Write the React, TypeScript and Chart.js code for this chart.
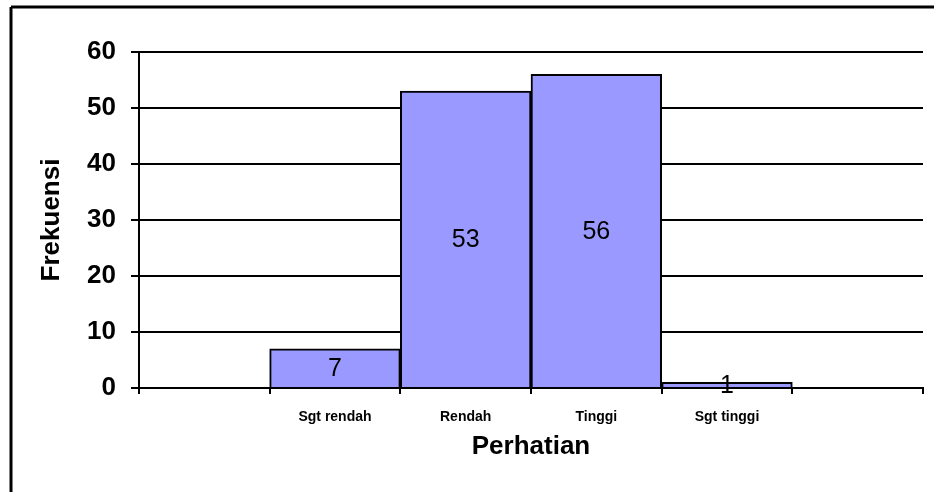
import React, { useEffect, useRef } from "react";
import { Chart, registerables } from "chart.js";

Chart.register(...registerables);

const categories = ["", "Sgt rendah", "Rendah", "Tinggi", "Sgt tinggi", ""];
const frequencies: (number | null)[] = [null, 7, 53, 56, 1, null];
const yTicks = [0, 10, 20, 30, 40, 50, 60];

const FONT = "'Liberation Sans', Arial, sans-serif";

const framePlugin = {
  id: "frame",
  afterDraw(chart: any) {
    const ctx = chart.ctx;
    ctx.save();
    ctx.strokeStyle = "#000";
    ctx.lineWidth = 3;
    ctx.beginPath();
    ctx.moveTo(11, 7);
    ctx.lineTo(934, 7);
    ctx.moveTo(11, 7);
    ctx.lineTo(11, 492);
    ctx.stroke();
    ctx.restore();
  },
};

const valueLabelPlugin = {
  id: "valueLabels",
  afterDatasetsDraw(chart: any) {
    const ctx = chart.ctx;
    const meta = chart.getDatasetMeta(0);
    ctx.save();
    ctx.fillStyle = "#000";
    ctx.font = `25px ${FONT}`;
    ctx.textAlign = "center";
    ctx.textBaseline = "middle";
    meta.data.forEach((bar: any, i: number) => {
      const v = frequencies[i];
      if (v === null || v === undefined) return;
      const { x, y, base } = bar.getProps(["x", "y", "base"], true);
      ctx.fillText(String(v), x, (y + base) / 2 + 1);
    });
    ctx.restore();
  },
};

export default function App() {
  const ref = useRef<HTMLCanvasElement>(null);
  useEffect(() => {
    if (!ref.current) return;
    const chart = new Chart(ref.current, {
      type: "bar",
      data: {
        labels: categories,
        datasets: [
          {
            data: frequencies as any,
            backgroundColor: "#9999FF",
            borderColor: "#000",
            borderWidth: 2,
            categoryPercentage: 1,
            barPercentage: 1,
          },
        ],
      },
      options: {
        animation: false,
        responsive: false,
        layout: { padding: { top: 52, right: 11, left: 0, bottom: 0 } },
        plugins: { legend: { display: false }, tooltip: { enabled: false } },
        scales: {
          x: {
            offset: true,
            grid: {
              offset: true,
              drawOnChartArea: false,
              drawTicks: true,
              tickLength: 6,
              color: "#000",
              lineWidth: 2,
            },
            border: { display: true, color: "#000", width: 2 },
            ticks: {
              color: "#000",
              font: { family: FONT, size: 14, weight: "bold" },
              padding: 15,
              maxRotation: 0,
              autoSkip: false,
            },
            title: {
              display: true,
              text: "Perhatian",
              color: "#000",
              font: { family: FONT, size: 26, weight: "bold" },
              padding: { top: 0, bottom: 30 },
            },
            afterFit(scale: any) {
              scale.height = 104;
            },
          },
          y: {
            min: 0,
            max: 60,
            afterBuildTicks(scale: any) {
              scale.ticks = yTicks.map((v) => ({ value: v }));
            },
            grid: { color: "#000", lineWidth: 2, tickLength: 8 },
            border: { display: true, color: "#000", width: 2 },
            ticks: {
              color: "#000",
              font: { family: FONT, size: 26, weight: "bold" },
              padding: 15,
            },
            title: {
              display: true,
              text: "Frekuensi",
              color: "#000",
              font: { family: FONT, size: 26, weight: "bold" },
              padding: { top: 36, bottom: 0 },
            },
            afterFit(scale: any) {
              scale.width = 139;
            },
          },
        },
      },
      plugins: [framePlugin, valueLabelPlugin],
    });
    return () => chart.destroy();
  }, []);
  return (
    <div style={{ position: "absolute", left: 0, top: 0, width: 934, height: 492, background: "#fff" }}>
      <canvas ref={ref} width={934} height={492} style={{ display: "block" }} />
    </div>
  );
}
